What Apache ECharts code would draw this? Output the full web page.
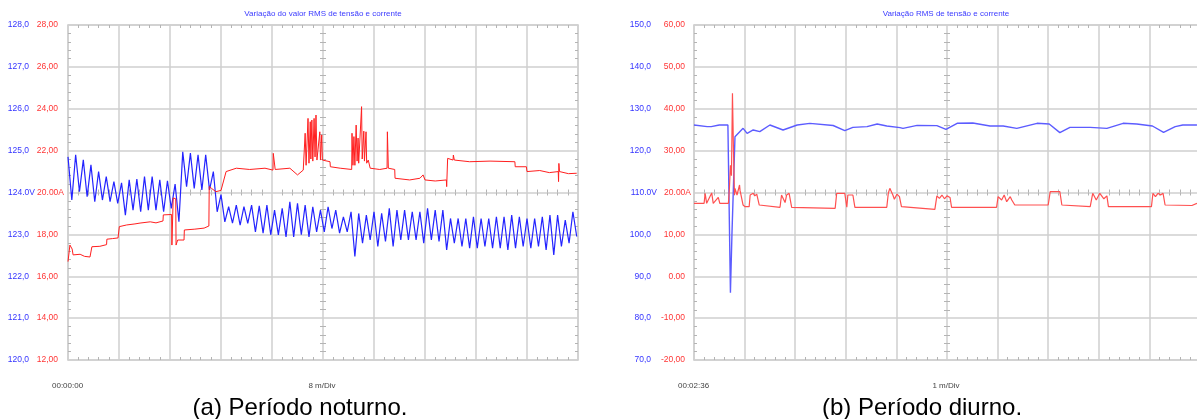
<!DOCTYPE html>
<html><head><meta charset="utf-8">
<script src="https://cdn.jsdelivr.net/npm/echarts@6/dist/echarts.min.js"></script>
<style>html,body{margin:0;padding:0;background:#fff;}#c{width:1197px;height:419px;}</style>
</head><body><div id="c"></div>
<script>
// ---------- (a) night period: voltage sampled every 0.6 min ----------
const nightVoltStep = 0.6;
const nightVolt = [
124.85,123.82,124.90,124.02,124.78,123.90,124.66,123.78,124.50,123.82,
124.38,123.78,124.26,123.74,124.23,123.46,124.30,123.58,124.32,123.54,
124.38,123.58,124.38,123.58,124.30,123.54,124.28,123.62,124.20,123.30,
124.97,124.14,124.94,124.10,124.90,124.06,124.90,124.06,124.50,123.54,
123.95,123.30,123.66,123.27,123.70,123.22,123.66,123.26,123.70,123.06,
123.68,123.03,123.70,122.99,123.58,122.99,123.62,122.94,123.78,122.94,
123.74,122.99,123.70,122.94,123.66,123.06,123.58,123.06,123.66,123.14,
123.58,123.03,123.42,123.06,123.54,122.47,123.50,122.79,123.46,122.87,
123.54,122.71,123.50,122.83,123.62,122.71,123.58,122.87,123.58,122.87,
123.54,122.87,123.54,122.79,123.62,122.87,123.58,122.83,123.58,122.63,
123.38,122.79,123.38,122.71,123.38,122.67,123.42,122.67,123.38,122.71,
123.38,122.67,123.42,122.67,123.42,122.63,123.46,122.67,123.42,122.71,
123.38,122.67,123.38,122.71,123.42,122.63,123.46,122.51,123.46,122.71,
123.34,122.79,123.54,122.95];
// night current: time (min) and amps
const nightAmpT = [0,0.3,0.65,0.8,1.9,2.6,3.45,3.75,5.0,6.05,6.1,7.0,7.85,8.05,9.2,10.5,11.3,12.9,13.8,14.9,
14.95,16.25,16.3,16.45,16.5,16.9,16.95,17.2,18.2,18.25,19.9,21.35,21.4,22.1,22.15,22.5,23.2,24.0,24.8,26.4,
28.5,30.9,32.15,32.2,32.5,34.8,36.0,36.9,37.15,37.2,37.35,37.65,37.8,38.0,38.1,38.25,38.4,38.6,38.75,38.9,
39.05,39.5,39.6,39.8,39.9,40.05,41.1,41.15,42.7,44.5,44.55,44.7,44.85,45.0,45.2,45.35,45.5,45.6,46.05,46.15,
46.4,46.5,46.75,46.85,47.1,47.4,48.9,50.05,50.1,50.25,51.25,51.3,53.6,55.2,55.7,56.0,57.6,59.35,59.4,59.55,
60.4,60.45,60.6,63.0,66.2,70.1,70.15,71.9,72.0,74.0,75.5,76.9,76.95,77.0,77.1,78.5,79.8];
const nightAmp = [16.70,17.49,17.30,17.02,17.05,16.95,16.92,17.41,17.43,17.51,17.77,17.80,17.83,18.37,18.45,18.50,18.54,18.60,18.55,18.64,
18.93,18.95,17.49,17.49,19.74,19.70,17.49,17.73,17.73,18.21,18.25,18.30,18.37,18.40,20.28,20.20,20.04,20.10,21.00,21.16,
21.10,21.16,21.07,21.87,21.10,21.16,20.84,21.07,21.10,22.83,21.30,23.54,21.40,23.38,21.60,23.46,21.50,23.54,21.70,23.70,
21.55,22.90,21.55,22.75,21.55,21.47,21.47,21.23,21.16,21.10,22.83,21.30,22.67,21.30,23.22,21.50,22.60,21.40,24.10,21.60,
22.93,21.50,22.90,21.40,21.55,21.16,21.10,21.16,22.90,21.16,21.10,20.68,20.60,20.68,20.84,20.60,20.55,20.60,20.28,21.63,
21.55,21.79,21.55,21.47,21.50,21.47,21.23,21.23,21.00,21.05,20.95,21.00,20.52,21.39,21.00,20.90,20.92];
const nightVoltTicks = ['120,0','121,0','122,0','123,0','124.0V','125,0','126,0','127,0','128,0'];
const nightAmpTicks = ['12,00','14,00','16,00','18,00','20.00A','22,00','24,00','26,00','28,00'];

// ---------- (b) day period ----------
const dayVoltT = [0,0.26,0.34,0.5,0.67,0.70,0.72,0.75,0.81,0.97,1.05,1.17,1.30,1.50,1.76,2.04,2.29,2.75,2.98,3.14,
3.42,3.62,3.81,4.07,4.13,4.41,4.80,4.98,5.20,5.51,5.85,6.11,6.38,6.78,7.02,7.23,7.43,7.83,8.16,8.48,8.75,9.06,9.28,9.51,9.66,9.94];
const dayVolt = [126.12,125.72,125.72,126.12,126.12,125.9,86.07,100.0,123.33,125.32,124.13,124.93,124.53,126.12,124.93,126.12,126.52,126.0,124.77,125.56,
125.72,126.36,125.88,125.48,125.32,126.04,125.96,125.08,126.52,126.60,125.88,125.88,125.32,126.52,126.36,124.29,125.56,125.56,125.32,126.52,126.36,125.88,124.37,125.72,126.12,126.12];
const dayAmpT = [0,0.20,0.22,0.25,0.35,0.38,0.48,0.51,0.68,0.70,0.72,0.74,0.76,0.78,0.80,0.81,0.85,0.90,0.91,0.97,
1.01,1.09,1.11,1.14,1.17,1.20,1.24,1.29,1.30,1.70,1.73,1.80,1.83,1.88,1.93,1.96,2.79,2.82,2.98,3.02,
3.04,3.14,3.18,3.81,3.84,3.87,3.93,3.96,4.01,4.06,4.10,4.76,4.80,4.85,4.90,4.95,5.00,5.06,5.09,5.98,
6.01,6.08,6.13,6.18,6.25,6.28,6.34,7.00,7.04,7.23,7.27,7.83,7.88,7.95,8.02,8.10,8.16,8.19,9.04,9.07,
9.12,9.17,9.22,9.27,9.31,9.84,9.94];
const dayAmp = [17.42,17.42,19.81,17.42,19.90,17.42,18.85,17.42,17.42,21.0,26.5,24.0,43.69,30.15,19.4,21.0,19.40,21.79,20.5,17.01,
16.61,16.61,19.40,19.0,19.81,19.2,19.6,17.01,16.61,16.47,19.40,17.6,19.40,19.81,16.47,16.23,16.23,19.81,19.81,16.47,
19.40,19.40,16.47,16.47,19.81,21.0,19.40,18.4,19.6,19.0,16.61,15.99,19.20,18.61,19.40,18.5,19.2,18.8,16.47,16.47,
19.0,18.2,19.40,17.8,19.0,18.21,17.01,17.01,20.19,20.19,17.01,16.61,19.8,18.2,19.81,18.5,19.2,16.61,16.61,19.81,
19.0,19.81,19.4,19.81,17.01,16.9,17.4];
const dayVoltTicks = ['70,0','80,0','90,0','100,0','110.0V','120,0','130,0','140,0','150,0'];
const dayAmpTicks = ['-20,00','-10,00','0.00','10,00','20.00A','30,00','40,00','50,00','60,00'];

const titles = ['Variação do valor RMS de tensão e corrente', 'Variação RMS de tensão e corrente'];
const startLabels = ['00:00:00', '00:02:36'];
const divLabels = ['8 m/Div', '1 m/Div'];
const captions = ['(a) Período noturno.', '(b) Período diurno.'];

// ---------- chart ----------
const FONT = "'Liberation Sans', Arial, sans-serif";
const GRID_C = '#cfcfcf', TICK_C = '#b4b4b4';
const BLUE_T = '#3535ff', RED_T = '#ff3535';

const panels = [
  {grid:{left:68, top:25, width:510, height:335}, x:[0,80,8], blue:[120,128,1], red:[12,28,2],
   bLab:nightVoltTicks, rLab:nightAmpTicks, bM:63, rM:34, bW:24, rW:24,
   volt: nightVolt.map((v,i)=>[i*nightVoltStep, v]), amp: nightAmpT.map((t,i)=>[t, nightAmp[i]]),
   bCol:'#2424ff', rCol:'#ff1f1f', bWidth:1.2, rWidth:1.0,
   titleX:323, startX:52, divX:322, capX:300},
  {grid:{left:694, top:25, width:506, height:335}, x:[0,10,1], blue:[70,150,10], red:[-20,60,10],
   bLab:dayVoltTicks, rLab:dayAmpTicks, bM:67, rM:37, bW:24, rW:28,
   volt: dayVoltT.map((t,i)=>[t, dayVolt[i]]), amp: dayAmpT.map((t,i)=>[t, dayAmp[i]]),
   bCol:'#5c5cff', rCol:'#ff5050', bWidth:1.4, rWidth:1.2,
   titleX:946, startX:678, divX:946, capX:922}
];

function labelCfg(labels, min, interval, color, width, margin) {
  return {
    show:true, align:'left', verticalAlign:'middle', margin,
    formatter: v => {
      const s = labels[Math.round((v - min) / interval)] || '';
      return /[VA]$/.test(s) ? '{w|' + s + '}' : '{n|' + s + '}';
    },
    rich: {
      n:{width, align:'right', color, fontSize:8.5, fontFamily:FONT},
      w:{width:width + 6, align:'right', color, fontSize:8.5, fontFamily:FONT}
    }
  };
}

function axis(g, range, opts) {
  return {
    gridIndex:g, type:'value', min:range[0], max:range[1], interval:range[2],
    position:opts.position, offset:opts.offset || 0,
    axisLine:{show:!!opts.line, onZero:false, lineStyle:{color:GRID_C, width:1.5}},
    axisTick:{show:false, inside:opts.inside !== false, length:3},
    minorTick:{show:!!opts.minor, splitNumber:5, length:3, lineStyle:{color:TICK_C, width:1}},
    splitLine:{show:!!opts.split, lineStyle:{color:GRID_C, width:1.5}},
    axisLabel: opts.label || {show:false},
    silent:true
  };
}

const grids = [], xAxes = [], yAxes = [], series = [], graphics = [];
panels.forEach((p, g) => {
  grids.push(Object.assign({containLabel:false, outerBoundsMode:'none'}, p.grid));
  const hh = p.grid.height / 2, hw = p.grid.width / 2;
  const xi = xAxes.length;
  xAxes.push(axis(g, p.x, {position:'bottom', line:true, minor:true, split:true}));
  xAxes.push(axis(g, p.x, {position:'top', line:true, minor:true}));
  xAxes.push(axis(g, p.x, {position:'bottom', offset:-hh, minor:true, inside:true}));
  xAxes.push(axis(g, p.x, {position:'bottom', offset:-hh, minor:true, inside:false}));
  const yi = yAxes.length;
  yAxes.push(axis(g, p.blue, {position:'left', line:true, minor:true, split:true,
    label: labelCfg(p.bLab, p.blue[0], p.blue[2], BLUE_T, p.bW, p.bM)}));
  yAxes.push(axis(g, p.red, {position:'left',
    label: labelCfg(p.rLab, p.red[0], p.red[2], RED_T, p.rW, p.rM)}));
  yAxes.push(axis(g, p.blue, {position:'right', line:true, minor:true}));
  yAxes.push(axis(g, p.blue, {position:'left', offset:-hw, minor:true, inside:true}));
  yAxes.push(axis(g, p.blue, {position:'left', offset:-hw, minor:true, inside:false}));

  series.push({type:'line', xAxisIndex:xi, yAxisIndex:yi, data:p.volt, symbol:'none', showSymbol:false,
    lineStyle:{color:p.bCol, width:p.bWidth}, silent:true, z:3});
  series.push({type:'line', xAxisIndex:xi, yAxisIndex:yi+1, data:p.amp, symbol:'none', showSymbol:false,
    lineStyle:{color:p.rCol, width:p.rWidth}, silent:true, z:4});

  graphics.push({type:'text', x:p.titleX, y:14, style:{text:titles[g], fill:'#3a3aff', font:'8px ' + FONT, align:'center', verticalAlign:'middle'}});
  graphics.push({type:'text', x:p.startX, y:386, style:{text:startLabels[g], fill:'#444', font:'8px ' + FONT, align:'left', verticalAlign:'middle'}});
  graphics.push({type:'text', x:p.divX, y:386, style:{text:divLabels[g], fill:'#444', font:'8px ' + FONT, align:'center', verticalAlign:'middle'}});
  graphics.push({type:'text', x:p.capX, y:408, style:{text:captions[g], fill:'#000', font:'24px ' + FONT, align:'center', verticalAlign:'middle'}});
});

const chart = echarts.init(document.getElementById('c'), null, {renderer:'canvas'});
chart.setOption({
  animation:false,
  backgroundColor:'#ffffff',
  grid:grids, xAxis:xAxes, yAxis:yAxes, series,
  graphic:{elements:graphics}
});
</script></body></html>
